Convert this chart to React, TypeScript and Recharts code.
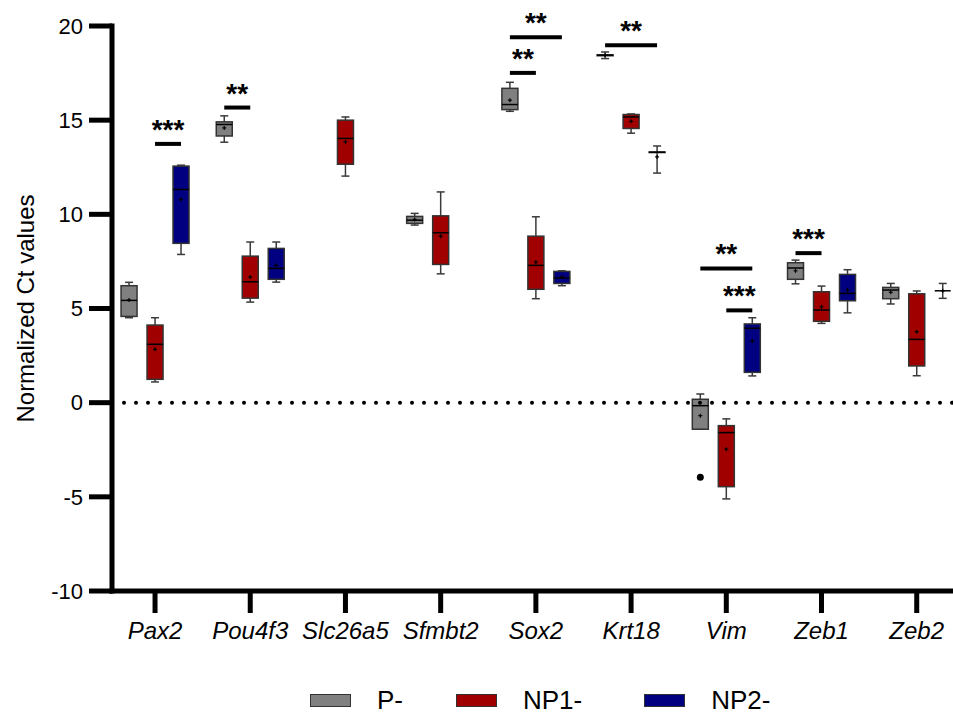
import React from 'react';
import { ComposedChart, XAxis, YAxis, Bar, Scatter, ReferenceLine } from 'recharts';

const genes = ['Pax2', 'Pou4f3', 'Slc26a5', 'Sfmbt2', 'Sox2', 'Krt18', 'Vim', 'Zeb1', 'Zeb2'];
const groupNames = ['P-', 'NP1-', 'NP2-'];
const groupColors = ['#808080', '#a00000', '#000080'];
const yTicks = [-10, -5, 0, 5, 10, 15, 20];

// per gene: [min, q1, median, q3, max, mean] (null = not measured)
const pStats = [
  [4.51, 4.58, 5.43, 6.21, 6.39, 5.45],
  [13.83, 14.16, 14.77, 14.91, 15.23, 14.59],
  null,
  [9.43, 9.52, 9.69, 9.89, 10.05, 9.73],
  [15.47, 15.56, 15.83, 16.69, 17.01, 16.06],
  [18.27, 18.42, 18.45, 18.47, 18.62, 18.45],
  [-1.41, -1.41, -0.16, 0.18, 0.46, -0.69],
  [6.31, 6.55, 7.15, 7.43, 7.57, 7.0],
  [5.24, 5.52, 5.98, 6.12, 6.33, 5.86],
];
const np1Stats = [
  [1.1, 1.24, 3.1, 4.12, 4.51, 2.83],
  [5.34, 5.55, 6.42, 7.78, 8.53, 6.67],
  [12.03, 12.66, 14.03, 15.0, 15.17, 13.85],
  [6.84, 7.34, 9.02, 9.92, 11.19, 8.84],
  [5.52, 6.02, 7.29, 8.84, 9.87, 7.46],
  [14.31, 14.56, 15.17, 15.3, 15.33, 14.94],
  [-5.11, -4.46, -1.59, -1.22, -0.86, -2.47],
  [4.21, 4.32, 4.92, 5.89, 6.19, 5.09],
  [1.43, 1.95, 3.36, 5.78, 5.93, 3.77],
];
const np2Stats = [
  [7.87, 8.46, 11.32, 12.56, 12.61, 10.79],
  [6.4, 6.55, 7.13, 8.19, 8.53, 7.29],
  null,
  null,
  [6.21, 6.33, 6.62, 6.97, 7.0, 6.67],
  [12.19, 13.28, 13.3, 13.31, 13.63, 13.05],
  [1.42, 1.61, 3.95, 4.18, 4.51, 3.27],
  [4.77, 5.41, 5.8, 6.81, 7.06, 5.98],
  [5.54, 5.94, 5.94, 5.94, 6.33, 5.94],
];

// outliers: gene, group index, value
const outliers = [{ gene: 'Vim', group: 0, value: -3.96 }];

// significance brackets: gene, from group, to group, bar value, label
const significance = [
  { gene: 'Pax2', from: 1, to: 2, y: 13.74, label: '***' },
  { gene: 'Pou4f3', from: 0, to: 1, y: 15.67, label: '**' },
  { gene: 'Sox2', from: 0, to: 1, y: 17.51, label: '**' },
  { gene: 'Sox2', from: 0, to: 2, y: 19.4, label: '**' },
  { gene: 'Krt18', from: 0, to: 2, y: 18.98, label: '**' },
  { gene: 'Vim', from: 0, to: 2, y: 7.13, label: '**' },
  { gene: 'Vim', from: 1, to: 2, y: 4.9, label: '***' },
  { gene: 'Zeb1', from: 0, to: 1, y: 7.94, label: '***' },
];

const GROUP_STEP = 0.273;
const posOf = (geneIdx: number, group: number) => geneIdx + 0.5 + (group - 1) * GROUP_STEP;

const allStats = [pStats, np1Stats, np2Stats];
const boxRows: any[] = [];
genes.forEach((g, gi) => {
  allStats.forEach((arr, k) => {
    const s = arr[gi];
    if (!s) return;
    boxRows.push({
      gene: g,
      x: posOf(gi, k),
      min: s[0], q1: s[1], median: s[2], q3: s[3], max: s[4], mean: s[5],
      color: groupColors[k],
    });
  });
});
const outlierRows = outliers.map((o) => ({ x: posOf(genes.indexOf(o.gene), o.group), y: o.value }));
const xTicks = genes.map((_, i) => i + 0.5);

const BoxShape = (props: any) => {
  const { x, y, width, height, payload } = props;
  if (payload == null || x == null) return null;
  const top = Math.min(y, y + height);
  const bot = Math.max(y, y + height);
  const { min, max, q1, q3, median, mean, color } = payload;
  const py = (v: number) => top + ((max - v) / (max - min)) * (bot - top);
  const cx = x + width / 2;
  const cap = width / 2;
  const wStroke = '#3a3a3a';
  return (
    <g>
      <line x1={cx} x2={cx} y1={py(max)} y2={py(q3)} stroke={wStroke} strokeWidth={1.5} />
      <line x1={cx} x2={cx} y1={py(q1)} y2={py(min)} stroke={wStroke} strokeWidth={1.5} />
      <line x1={cx - cap / 2} x2={cx + cap / 2} y1={py(max)} y2={py(max)} stroke={wStroke} strokeWidth={1.5} />
      <line x1={cx - cap / 2} x2={cx + cap / 2} y1={py(min)} y2={py(min)} stroke={wStroke} strokeWidth={1.5} />
      <rect x={x} y={py(q3)} width={width} height={Math.max(0, py(q1) - py(q3))} fill={color} stroke="#333" strokeWidth={1.5} />
      <line x1={x} x2={x + width} y1={py(median)} y2={py(median)} stroke="#000" strokeWidth={1.5} />
      <line x1={cx - 2} x2={cx + 2} y1={py(mean)} y2={py(mean)} stroke="#000" strokeWidth={1.2} />
      <line x1={cx} x2={cx} y1={py(mean) - 2} y2={py(mean) + 2} stroke="#000" strokeWidth={1.2} />
    </g>
  );
};

const YTitle = (props: any) => {
  const vb = props && props.viewBox ? props.viewBox : { x: 0, y: 26, width: 112, height: 565 };
  const cx = vb.x + 25;
  const cy = vb.y + vb.height / 2;
  return (
    <text
      x={cx}
      y={cy}
      transform={`rotate(-90, ${cx}, ${cy})`}
      textAnchor="middle"
      dominantBaseline="central"
      fontSize={24}
      fill="#000"
    >
      Normalized Ct values
    </text>
  );
};

const legendGaps = [53, 62, 0];

export default function App() {
  return (
    <div
      style={{
        position: 'absolute',
        left: 0,
        top: 0,
        width: 953,
        height: 716,
        background: '#fff',
        fontFamily: "'Liberation Sans', Arial, sans-serif",
      }}
    >
      <ComposedChart width={953} height={716} data={boxRows} margin={{ top: 26, right: 0, bottom: 65, left: 0 }}>
        <XAxis
          type="number"
          dataKey="x"
          domain={[0.048, 8.881]}
          ticks={xTicks}
          interval={0}
          allowDataOverflow
          height={60}
          tickSize={22}
          tickMargin={9}
          tickFormatter={(v: number) => genes[Math.floor(v)]}
          axisLine={{ stroke: '#000', strokeWidth: 5, strokeLinecap: 'square' }}
          tickLine={{ stroke: '#000', strokeWidth: 5 }}
          tick={{ fill: '#000', fontSize: 24, fontStyle: 'italic' }}
        />
        <YAxis
          type="number"
          domain={[-10, 20]}
          ticks={yTicks}
          interval={0}
          allowDataOverflow
          width={112}
          tickSize={23}
          tickMargin={6}
          axisLine={{ stroke: '#000', strokeWidth: 5, strokeLinecap: 'square' }}
          tickLine={{ stroke: '#000', strokeWidth: 5 }}
          tick={{ fill: '#000', fontSize: 22 }}
          label={(p: any) => <YTitle {...p} />}
        />
        <ReferenceLine
          y={0}
          stroke="#000"
          strokeWidth={4}
          strokeDasharray="0 12"
          strokeLinecap="round"
        />
        <Bar
          dataKey={(d: any) => [d.min, d.max]}
          barSize={16}
          shape={<BoxShape />}
          isAnimationActive={false}
        />
        <Scatter
          data={outlierRows}
          dataKey="y"
          fill="#000"
          isAnimationActive={false}
          shape={(p: any) => <circle cx={p.cx} cy={p.cy} r={3.5} fill="#000" />}
        />
        {significance.map((s, i) => {
          const gi = genes.indexOf(s.gene);
          return (
            <ReferenceLine
              key={i}
              segment={[
                { x: posOf(gi, s.from), y: s.y },
                { x: posOf(gi, s.to), y: s.y },
              ]}
              stroke="#000"
              strokeWidth={4}
              label={{ value: s.label, position: 'top', offset: 5, fontSize: 28, fontWeight: 'bold', fill: '#000' }}
            />
          );
        })}
      </ComposedChart>
      <div
        style={{
          position: 'absolute',
          left: 310,
          top: 686,
          height: 28,
          display: 'flex',
          alignItems: 'center',
          fontSize: 26,
          lineHeight: '28px',
          color: '#000',
          whiteSpace: 'nowrap',
        }}
      >
        {groupNames.map((n, i) => (
          <div key={n} style={{ display: 'flex', alignItems: 'center', height: 28, marginRight: legendGaps[i] }}>
            <div
              style={{
                width: 39,
                height: 11,
                background: groupColors[i],
                border: '1.5px solid #333',
                marginRight: 26,
              }}
            />
            <span>{n}</span>
          </div>
        ))}
      </div>
    </div>
  );
}
